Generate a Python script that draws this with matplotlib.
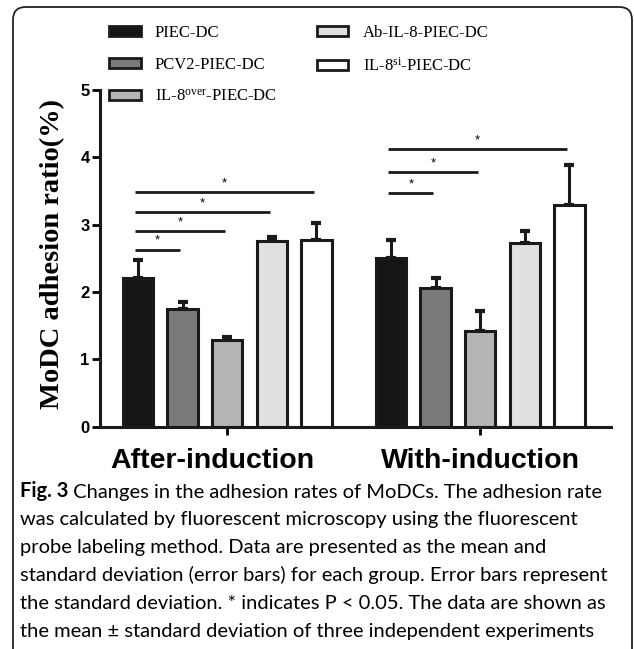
import matplotlib
matplotlib.use("Agg")
import matplotlib.pyplot as plt
import numpy as np
from matplotlib.patches import FancyBboxPatch, Patch
from matplotlib.transforms import blended_transform_factory

plt.rcParams['mathtext.fontset'] = 'custom'
plt.rcParams['mathtext.rm'] = 'Liberation Serif'
plt.rcParams['mathtext.it'] = 'Liberation Serif:italic'

# data
groups = ["After-induction", "With-induction"]
series = ["PIEC-DC", "PCV2-PIEC-DC", "IL-8$^{\\mathrm{over}}$-PIEC-DC",
          "Ab-IL-8-PIEC-DC", "IL-8$^{\\mathrm{si}}$-PIEC-DC"]
colors = ["#151515", "#7a7a7a", "#b5b5b5", "#e0e0e0", "#ffffff"]
after_mean = [2.21, 1.74, 1.28, 2.75, 2.77]
after_sd = [0.27, 0.11, 0.05, 0.07, 0.25]
with_mean = [2.51, 2.06, 1.42, 2.72, 3.29]
with_sd = [0.26, 0.14, 0.29, 0.18, 0.59]
# significance brackets: (group index, bar a, bar b, height)
sig = [(0, 0, 1, 2.63), (0, 0, 2, 2.90), (0, 0, 3, 3.19), (0, 0, 4, 3.49),
       (1, 0, 1, 3.47), (1, 0, 2, 3.78), (1, 0, 4, 4.12)]

caption = [
    "Changes in the adhesion rates of MoDCs. The adhesion rate",
    "was calculated by fluorescent microscopy using the fluorescent",
    "probe labeling method. Data are presented as the mean and",
    "standard deviation (error bars) for each group. Error bars represent",
    "the standard deviation. * indicates P < 0.05. The data are shown as",
    "the mean \u00b1 standard deviation of three independent experiments",
]

fig = plt.figure(figsize=(6.34, 6.49), dpi=100)
ax = fig.add_axes([0.1577, 0.3428, 0.806, 0.5185])

group_off = [0.0, 5.67]
means = [after_mean, with_mean]
sds = [after_sd, with_sd]
for g in range(2):
    x = np.arange(5) + group_off[g]
    for i in range(5):
        ax.bar(x[i], means[g][i], width=0.68, color=colors[i], edgecolor="#1a1a1a",
               linewidth=2.2, zorder=2)
        ax.errorbar(x[i], means[g][i], yerr=[[0], [sds[g][i]]], fmt="none",
                    ecolor="#1a1a1a", elinewidth=2.2, capsize=3.5, capthick=3, zorder=1)

for g, a, b, h in sig:
    xa = a + group_off[g] - 0.06
    xb = b + group_off[g] - 0.05
    ax.plot([xa, xb], [h, h], color="#1a1a1a", lw=2.0, solid_capstyle="butt")
    ax.text((xa + xb) / 2, h + 0.04, "*", ha="center", va="bottom", fontsize=9.5,
            family="Liberation Sans")

ax.set_xlim(-0.85, 10.6)
ax.set_ylim(0, 5)
ax.set_yticks([0, 1, 2, 3, 4, 5])
ax.set_xticks([2, 2 + group_off[1]])
ax.set_xticklabels(["", ""])
# the first group name sits a little left of its tick in the original
trans = blended_transform_factory(ax.transData, ax.transAxes)
for gx, name in zip([1.66, 2 + group_off[1]], groups):
    ax.text(gx, -0.065, name, transform=trans, ha="center", va="top",
            fontsize=20.5, fontweight="bold", family="Liberation Sans")
for lab in ax.get_yticklabels():
    lab.set_fontsize(12)
    lab.set_fontweight("bold")
    lab.set_family("Liberation Sans")
ax.tick_params(axis="y", length=6, width=2, pad=1.5)
ax.tick_params(axis="x", length=6, width=2)
for s in ["top", "right"]:
    ax.spines[s].set_visible(False)
for s in ["left", "bottom"]:
    ax.spines[s].set_linewidth(2.2)
    ax.spines[s].set_color("#1a1a1a")

fig.text(53 / 634, 1 - 254 / 649, "MoDC adhesion ratio(%)", rotation=90, ha="center",
         va="center", fontsize=20.5, fontweight="bold", family="Liberation Serif")

handles = [Patch(facecolor=c, edgecolor="#1a1a1a", linewidth=2) for c in colors]
fig.legend(handles, series, loc="upper left", bbox_to_anchor=(109 / 634, 1 - 25 / 649),
           ncol=2, frameon=False, borderpad=0, borderaxespad=0,
           prop={"family": "Liberation Serif", "size": 12},
           handlelength=1.9, handleheight=0.55, handletextpad=0.85,
           columnspacing=2.4, labelspacing=0.95)

# caption
cap_size = 14.5
t0 = fig.text(20 / 634, 1 - 497 / 649, "Fig. 3", fontsize=cap_size, fontweight="bold",
              family="Lato", va="baseline")
ax.annotate(" " + caption[0], xy=(1, 0), xycoords=t0, va="bottom", ha="left",
            fontsize=cap_size, family="Lato", annotation_clip=False)
for k in range(1, len(caption)):
    fig.text(20 / 634, 1 - (497 + 28 * k) / 649, caption[k], fontsize=cap_size,
             family="Lato", va="baseline")

frame = FancyBboxPatch((13 / 634, -0.02), 619 / 634, 1 - 7 / 649 + 0.02,
                       boxstyle="round,pad=0,rounding_size=0.02",
                       transform=fig.transFigure, facecolor="none",
                       edgecolor="#222222", linewidth=1.3)
fig.add_artist(frame)

fig.savefig("out.png", dpi=100)
